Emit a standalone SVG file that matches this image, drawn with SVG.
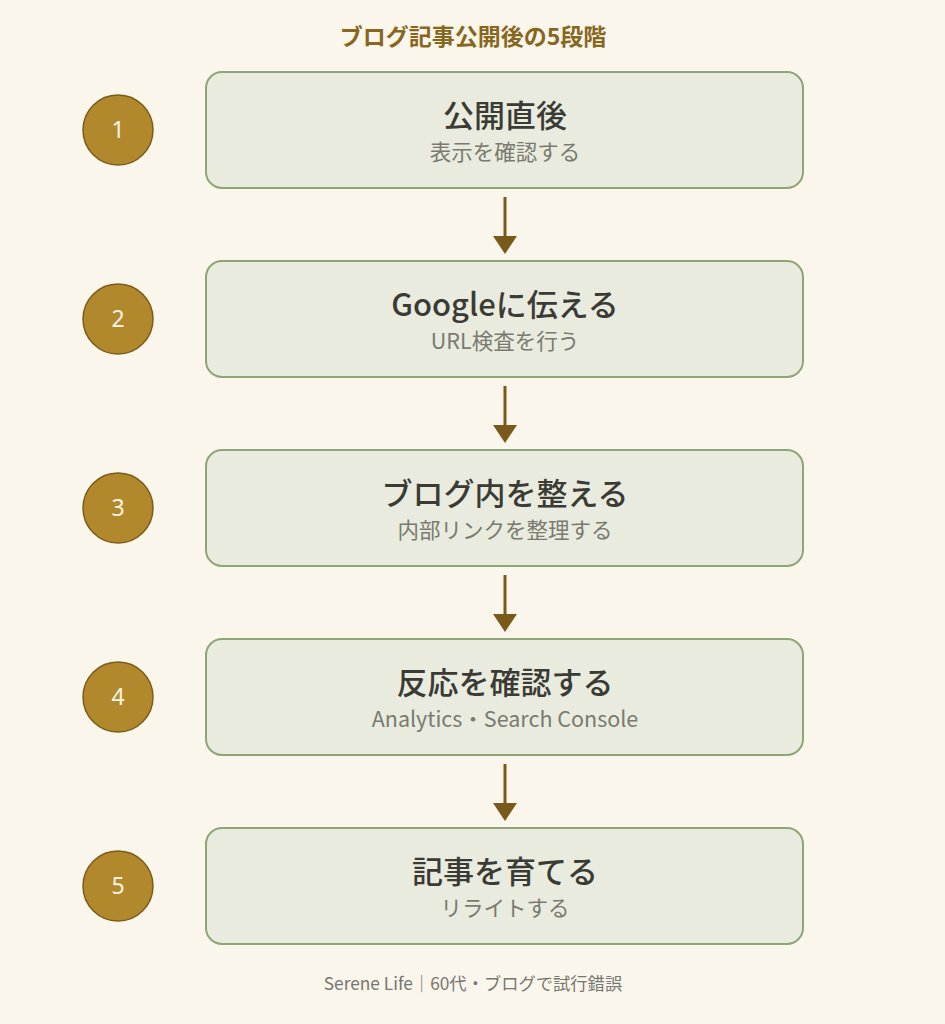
<svg xmlns="http://www.w3.org/2000/svg" width="945" height="1024" viewBox="0 0 945 1024">
<defs>
<style>
.bg{fill:#faf6ec}
.box{fill:#e8ebdd;stroke:#8fa577;stroke-width:2}
.num{fill:#b1892c;stroke:#7c5c1a;stroke-width:1.5}
.numt{fill:#fbf4e4;font-family:"Noto Sans","Noto Sans CJK JP",sans-serif;font-size:23px;text-anchor:middle}
.t{fill:#3b3b35;font-family:"Noto Sans CJK JP","Noto Sans",sans-serif;font-size:31px;font-weight:500;text-anchor:middle}
.s{fill:#7a7a70;font-family:"Noto Sans CJK JP","Noto Sans",sans-serif;font-size:21.5px;text-anchor:middle}
.h{fill:#87661e;font-family:"Noto Sans CJK JP","Noto Sans",sans-serif;font-size:23px;font-weight:bold;text-anchor:middle}
.f{fill:#777770;font-family:"Noto Sans CJK JP","Noto Sans",sans-serif;font-size:17.3px;text-anchor:middle}
.ln{stroke:#7a5a1a;stroke-width:3;fill:none}
.hd{fill:#7a5a1a}
</style>
</defs>
<rect class="bg" x="0" y="0" width="945" height="1024"/>
<text class="h" x="473" y="45">ブログ記事公開後の5段階</text>
<g id="connectors">
<line class="ln" x1="505" y1="197" x2="505" y2="238"/><path class="hd" d="M493,236 L517,236 L505,254 Z"/>
<line class="ln" x1="505" y1="386" x2="505" y2="427"/><path class="hd" d="M493,425 L517,425 L505,443 Z"/>
<line class="ln" x1="505" y1="575" x2="505" y2="616"/><path class="hd" d="M493,614 L517,614 L505,632 Z"/>
<line class="ln" x1="505" y1="764" x2="505" y2="805"/><path class="hd" d="M493,803 L517,803 L505,821 Z"/>
</g>
<g id="step1">
<circle class="num" cx="118" cy="130" r="35"/>
<text class="numt" x="118" y="138">1</text>
<rect class="box" x="206" y="72" width="597" height="116" rx="16"/>
<text class="t" x="505" y="127">公開直後</text>
<text class="s" x="505" y="160">表示を確認する</text>
</g>
<g id="step2">
<circle class="num" cx="118" cy="319" r="35"/>
<text class="numt" x="118" y="327">2</text>
<rect class="box" x="206" y="261" width="597" height="116" rx="16"/>
<text class="t" x="505" y="316">Googleに伝える</text>
<text class="s" x="505" y="349">URL検査を行う</text>
</g>
<g id="step3">
<circle class="num" cx="118" cy="508" r="35"/>
<text class="numt" x="118" y="516">3</text>
<rect class="box" x="206" y="450" width="597" height="116" rx="16"/>
<text class="t" x="505" y="505">ブログ内を整える</text>
<text class="s" x="505" y="538">内部リンクを整理する</text>
</g>
<g id="step4">
<circle class="num" cx="118" cy="697" r="35"/>
<text class="numt" x="118" y="705">4</text>
<rect class="box" x="206" y="639" width="597" height="116" rx="16"/>
<text class="t" x="505" y="694">反応を確認する</text>
<text class="s" x="505" y="727">Analytics・Search Console</text>
</g>
<g id="step5">
<circle class="num" cx="118" cy="886" r="35"/>
<text class="numt" x="118" y="894">5</text>
<rect class="box" x="206" y="828" width="597" height="116" rx="16"/>
<text class="t" x="505" y="883">記事を育てる</text>
<text class="s" x="505" y="916">リライトする</text>
</g>
<text class="f" x="473" y="990">Serene Life｜60代・ブログで試行錯誤</text>
</svg>
